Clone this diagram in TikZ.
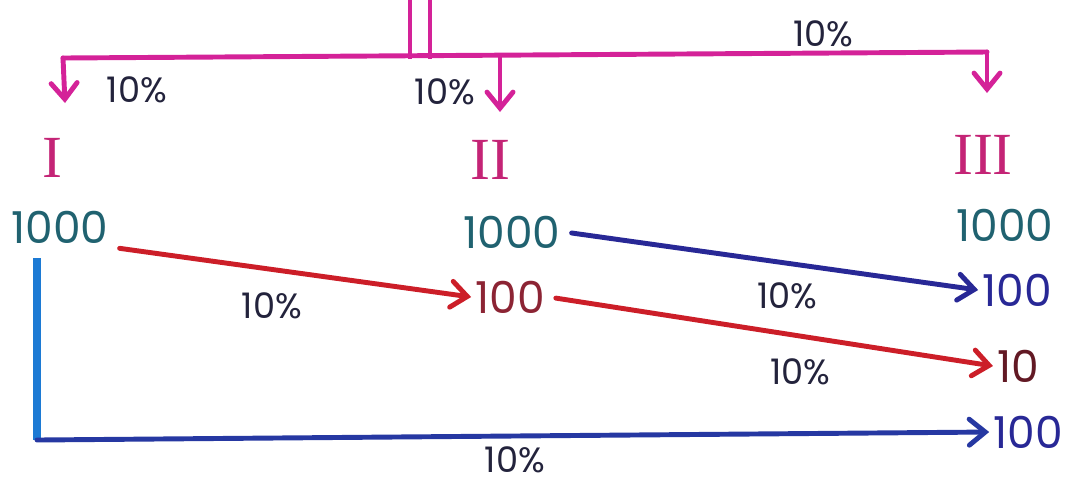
\documentclass[tikz,border=0pt]{standalone}
\usepackage{fontspec}
\usepackage{tikz}
\usepackage{xcolor}
\setmainfont{Poppins}
\newfontfamily\romfont{Liberation Serif}
\usetikzlibrary{arrows.meta,positioning}

\definecolor{pinkline}{RGB}{212,34,152}
\definecolor{romcol}{RGB}{196,36,118}
\definecolor{tealnum}{RGB}{32,98,112}
\definecolor{redarr}{RGB}{204,30,40}
\definecolor{navyarr}{RGB}{40,40,150}
\definecolor{skyarr}{RGB}{28,122,212}
\definecolor{inkcol}{RGB}{35,35,60}
\definecolor{maroon}{RGB}{140,36,52}

\begin{document}
\begin{tikzpicture}[
    x=0.01cm,y=-0.01cm,
    num/.style={inner sep=1pt,font=\fontsize{12.5}{14}\selectfont},
    pct/.style={inner sep=1pt,text=inkcol,font=\fontsize{10}{12}\selectfont},
    rom/.style={inner sep=1pt,text=romcol,font=\romfont\fontsize{17}{19}\selectfont},
    tip/.style={-{Straight Barb[length=1.6mm,width=2.6mm,line cap=round]},line cap=round},
    pinkarr/.style={tip,draw=pinkline,line width=1.4pt},
    flow/.style={tip,line width=1.4pt}
  ]
    \useasboundingbox (0,0) rectangle (1077,484);
    % headings
    \node[rom] (rI) at (52,158) {I};
    \node[rom] (rII) at (490,160) {II};
    \node[rom] (rIII) at (983,155) {III};
    % amounts
    \node[num,text=tealnum] (aI) at (60,227) {1000};
    \node[num,text=tealnum] (aII) at (512,232) {1000};
    \node[num,text=tealnum] (aIII) at (1005,225) {1000};
    \node[num,text=maroon] (bII) at (510,297) {100};
    \node[num,text=navyarr] (bIII) at (1017,290) {100};
    \node[num,text=maroon!70!black] (cIII) at (1018,366) {10};
    \node[num,text=navyarr] (dIII) at (1028,432) {100};
    % top split
    \coordinate (inA) at (410,0);
    \coordinate (inB) at (430,0);
    \coordinate (barL) at (63,58);
    \coordinate (barM) at (500,57);
    \coordinate (barR) at (987,52);
    \coordinate (endI) at (65,103);
    \coordinate (endII) at (500,112);
    \coordinate (endIII) at (987,93);
    \draw[pinkline,line width=1.4pt] (inA) -- (410,59);
    \draw[pinkline,line width=1.4pt] (inB) -- (430,59);
    \draw[pinkline,line width=1.4pt,line cap=round] (barL) -- (barR);
    \draw[pinkarr] (barL) -- (endI);
    \draw[pinkarr] (barM) -- (endII);
    \draw[pinkarr] (barR) -- (endIII);
    \node[pct] (pI) at (137,90) {10\%};
    \node[pct] (pII) at (445,92) {10\%};
    \node[pct] (pIII) at (823,34) {10\%};
    % transfers
    \draw[flow,draw=redarr,shorten <=2pt] (aI.south east) -- (bII.west);
    \node[pct] at (272,306) {10\%};
    \draw[flow,draw=navyarr,shorten <=2pt] (aII.east) -- (bIII.west);
    \node[pct] at (787,296) {10\%};
    \draw[flow,draw=redarr,shorten <=2pt] (bII.east) -- (cIII.west);
    \node[pct] at (800,372) {10\%};
    \coordinate (corner) at (37,440);
    \draw[skyarr,line width=2pt] (37,258) -- (corner);
    \draw[flow,draw=navyarr!80!skyarr] (corner) -- (dIII.west);
    \node[pct] at (515,460) {10\%};
  \end{tikzpicture}
\end{document}
